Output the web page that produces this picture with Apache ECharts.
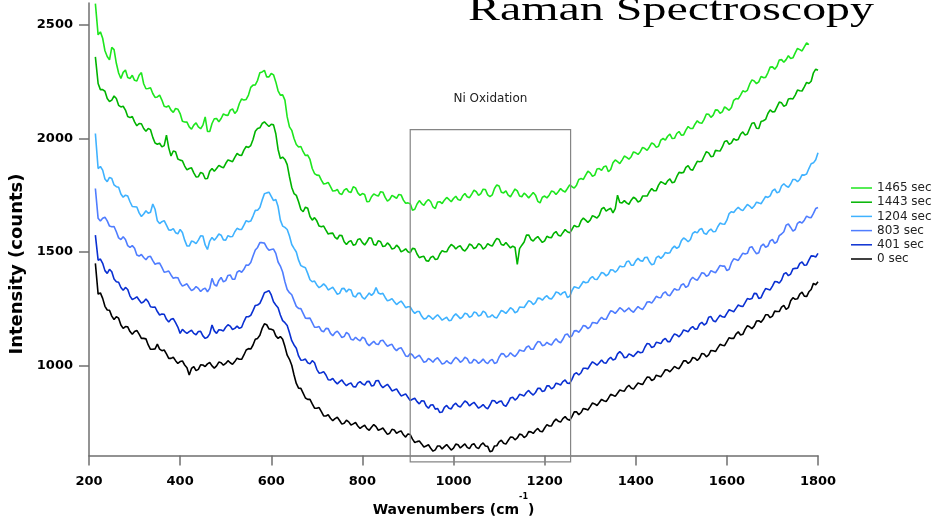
<!DOCTYPE html>
<html>
<head>
<meta charset="utf-8">
<script src="https://cdn.jsdelivr.net/npm/echarts@6/dist/echarts.min.js"></script>
<style>
  html, body { margin: 0; padding: 0; background: #ffffff; }
  #chart { width: 932px; height: 520px; }
</style>
</head>
<body>
<div id="chart"></div>
<script>
// Raman shift sample positions (cm^-1), main grid
const wavenumbers = [
  214, 220, 230, 240, 250, 260, 270, 280, 290, 300,
  310, 320, 330, 340, 350, 360, 370, 380, 390, 400,
  410, 420, 430, 440, 450, 460, 470, 480, 490, 500,
  510, 520, 530, 540, 550, 560, 570, 580, 590, 600,
  610, 620, 630, 640, 650, 660, 670, 680, 690, 700,
  710, 720, 730, 740, 750, 760, 770, 780, 790, 800,
  810, 820, 830, 840, 850, 860, 870, 880, 890, 900,
  910, 920, 930, 940, 950, 960, 970, 980, 990, 1000,
  1010, 1020, 1030, 1040, 1050, 1060, 1070, 1080, 1090, 1100,
  1110, 1120, 1130, 1140, 1150, 1160, 1170, 1180, 1190, 1200,
  1210, 1220, 1230, 1240, 1250, 1260, 1270, 1280, 1290, 1300,
  1310, 1320, 1330, 1340, 1350, 1360, 1370, 1380, 1390, 1400,
  1410, 1420, 1430, 1440, 1450, 1460, 1470, 1480, 1490, 1500,
  1510, 1520, 1530, 1540, 1550, 1560, 1570, 1580, 1590, 1600,
  1610, 1620, 1630, 1640, 1650, 1660, 1670, 1680, 1690, 1700,
  1710, 1720, 1730, 1740, 1750, 1760, 1770, 1780, 1790, 1800
];

// Intermediate sample positions (cm^-1)
const wavenumbersMid = [
  225, 235, 245, 255, 265, 275, 285, 295, 305, 315,
  325, 335, 345, 355, 365, 375, 385, 395, 405, 415,
  425, 435, 445, 455, 465, 475, 485, 495, 505, 515,
  525, 535, 545, 555, 565, 575, 585, 595, 605, 615,
  625, 635, 645, 655, 665, 675, 685, 695, 705, 715,
  725, 735, 745, 755, 765, 775, 785, 795, 805, 815,
  825, 835, 845, 855, 865, 875, 885, 895, 905, 915,
  925, 935, 945, 955, 965, 975, 985, 995, 1005, 1015,
  1025, 1035, 1045, 1055, 1065, 1075, 1085, 1095, 1105, 1115,
  1125, 1135, 1145, 1155, 1165, 1175, 1185, 1195, 1205, 1215,
  1225, 1235, 1245, 1255, 1265, 1275, 1285, 1295, 1305, 1315,
  1325, 1335, 1345, 1355, 1365, 1375, 1385, 1395, 1405, 1415,
  1425, 1435, 1445, 1455, 1465, 1475, 1485, 1495, 1505, 1515,
  1525, 1535, 1545, 1555, 1565, 1575, 1585, 1595, 1605, 1615,
  1625, 1635, 1645, 1655, 1665, 1675, 1685, 1695, 1705, 1715,
  1725, 1735, 1745, 1755, 1765, 1775, 1785, 1795
];

// Intensity (counts), 1465 s
const counts1465 = [
  2592, 2455, 2440, 2360, 2400, 2330, 2263, 2300, 2263, 2255,
  2277, 2240, 2219, 2197, 2182, 2168, 2138, 2124, 2131, 2109,
  2072, 2050, 2058, 2050, 2058, 2030, 2065, 2087, 2087, 2102,
  2124, 2109, 2153, 2168, 2190, 2234, 2255, 2292, 2270, 2285,
  2248, 2190, 2168, 2050, 1999, 1962, 1941, 1926, 1867, 1838,
  1816, 1801, 1787, 1769, 1757, 1772, 1765, 1787, 1760, 1757,
  1721, 1743, 1750, 1765, 1740, 1731, 1743, 1753, 1728, 1716,
  1684, 1711, 1713, 1721, 1721, 1691, 1721, 1728, 1731, 1735,
  1731, 1746, 1743, 1754, 1765, 1757, 1775, 1743, 1779, 1790,
  1760, 1750, 1760, 1769, 1743, 1750, 1750, 1750, 1716, 1746,
  1750, 1765, 1765, 1769, 1779, 1787, 1794, 1823, 1838, 1848,
  1838, 1867, 1875, 1853, 1892, 1897, 1904, 1916, 1919, 1936,
  1941, 1955, 1962, 1974, 1965, 1999, 2009, 1999, 2021, 2014,
  2036, 2043, 2062, 2068, 2083, 2106, 2102, 2124, 2116, 2131,
  2135, 2175, 2190, 2204, 2238, 2252, 2248, 2267, 2288, 2314,
  2317, 2346, 2346, 2351, 2376, 2390, 2402, 2412, null, null
];
const counts1465Mid = [
  2468, 2385, 2345, 2390, 2287, 2290, 2267, 2277, 2252, 2289,
  2218, 2222, 2180, 2190, 2141, 2143, 2114, 2128, 2075, 2071,
  2040, 2068, 2042, 2094, 2030, 2086, 2073, 2107, 2101, 2129,
  2121, 2173, 2171, 2224, 2235, 2288, 2299, 2270, 2279, 2209,
  2191, 2094, 2035, 1973, 1964, 1924, 1907, 1845, 1837, 1799,
  1806, 1768, 1775, 1753, 1779, 1762, 1782, 1749, 1753, 1722,
  1755, 1746, 1763, 1724, 1749, 1736, 1751, 1714, 1712, 1688,
  1726, 1705, 1731, 1698, 1720, 1713, 1740, 1721, 1745, 1727,
  1757, 1739, 1772, 1749, 1776, 1751, 1751, 1795, 1763, 1769,
  1743, 1777, 1746, 1759, 1738, 1762, 1723, 1741, 1738, 1768,
  1753, 1779, 1764, 1795, 1781, 1819, 1819, 1855, 1833, 1865,
  1859, 1878, 1863, 1905, 1889, 1922, 1908, 1940, 1929, 1960,
  1947, 1980, 1960, 1992, 1992, 2018, 2000, 2030, 2015, 2052,
  2043, 2077, 2066, 2107, 2092, 2125, 2110, 2138, 2123, 2167,
  2173, 2209, 2211, 2257, 2240, 2272, 2268, 2313, 2304, 2344,
  2334, 2363, 2354, 2395, 2384, 2419, null, null
];

// Intensity (counts), 1443 s
const counts1443 = [
  2358, 2241, 2214, 2175, 2168, 2175, 2138, 2124, 2091, 2072,
  2065, 2043, 2043, 2004, 1974, 1962, 2014, 1922, 1941, 1904,
  1878, 1867, 1848, 1831, 1845, 1823, 1867, 1867, 1875, 1889,
  1901, 1916, 1926, 1948, 1960, 1995, 2043, 2065, 2062, 2062,
  2020, 1911, 1907, 1831, 1757, 1721, 1677, 1692, 1640, 1637,
  1611, 1596, 1582, 1564, 1574, 1545, 1545, 1530, 1555, 1541,
  1545, 1560, 1530, 1545, 1526, 1530, 1516, 1520, 1506, 1501,
  1516, 1491, 1479, 1462, 1476, 1467, 1491, 1501, 1520, 1526,
  1523, 1511, 1516, 1530, 1520, 1530, 1520, 1530, 1545, 1555,
  1530, 1530, 1526, 1445, 1530, 1574, 1555, 1560, 1555, 1549,
  1564, 1582, 1574, 1585, 1589, 1599, 1611, 1637, 1640, 1640,
  1655, 1662, 1696, 1687, 1672, 1750, 1716, 1716, 1728, 1734,
  1725, 1746, 1765, 1769, 1794, 1804, 1813, 1804, 1831, 1848,
  1872, 1863, 1880, 1897, 1921, 1936, 1921, 1945, 1962, 1989,
  1980, 1992, 2018, 2014, 2043, 2068, 2043, 2077, 2109, 2116,
  2138, 2156, 2146, 2175, 2190, 2209, 2226, 2241, 2288, 2299
];
const counts1443Mid = [
  2214, 2207, 2162, 2186, 2145, 2141, 2096, 2096, 2055, 2064,
  2031, 2038, 1979, 1978, 1968, 1958, 1944, 1909, 1901, 1861,
  1870, 1830, 1850, 1822, 1855, 1855, 1881, 1870, 1905, 1897,
  1933, 1925, 1964, 1968, 2031, 2046, 2072, 2052, 2059, 1951,
  1917, 1884, 1784, 1749, 1687, 1697, 1656, 1651, 1614, 1614,
  1579, 1583, 1557, 1572, 1533, 1550, 1533, 1558, 1531, 1563,
  1533, 1550, 1524, 1540, 1513, 1530, 1501, 1514, 1497, 1514,
  1475, 1481, 1459, 1482, 1469, 1506, 1501, 1533, 1513, 1527,
  1504, 1535, 1515, 1537, 1513, 1537, 1526, 1560, 1533, 1542,
  1518, 1520, 1515, 1544, 1575, 1548, 1568, 1542, 1569, 1563,
  1590, 1570, 1599, 1584, 1617, 1612, 1649, 1630, 1660, 1649,
  1689, 1680, 1692, 1691, 1718, 1726, 1710, 1741, 1720, 1746,
  1746, 1779, 1770, 1809, 1797, 1821, 1808, 1850, 1850, 1880,
  1860, 1899, 1899, 1941, 1919, 1947, 1944, 1986, 1973, 1998,
  1995, 2028, 2019, 2066, 2044, 2074, 2083, 2125, 2117, 2159,
  2141, 2173, 2173, 2212, 2208, 2246, 2251, 2304
];

// Intensity (counts), 1204 s
const counts1204 = [
  2021, 1867, 1860, 1809, 1823, 1787, 1755, 1750, 1721, 1699,
  1672, 1667, 1670, 1711, 1637, 1633, 1618, 1596, 1585, 1599,
  1552, 1526, 1545, 1552, 1570, 1511, 1564, 1564, 1574, 1552,
  1567, 1589, 1599, 1618, 1633, 1658, 1684, 1728, 1760, 1745,
  1731, 1640, 1608, 1570, 1516, 1464, 1435, 1406, 1369, 1355,
  1350, 1350, 1339, 1330, 1318, 1340, 1336, 1306, 1318, 1300,
  1306, 1309, 1344, 1315, 1300, 1289, 1281, 1277, 1271, 1259,
  1242, 1238, 1218, 1208, 1213, 1215, 1213, 1207, 1198, 1218,
  1218, 1215, 1227, 1218, 1233, 1223, 1233, 1215, 1213, 1227,
  1238, 1242, 1248, 1238, 1257, 1271, 1281, 1277, 1296, 1300,
  1296, 1306, 1321, 1321, 1300, 1330, 1344, 1355, 1365, 1384,
  1380, 1394, 1406, 1403, 1421, 1421, 1435, 1457, 1442, 1461,
  1462, 1476, 1457, 1447, 1482, 1482, 1494, 1516, 1516, 1549,
  1555, 1555, 1589, 1599, 1582, 1593, 1589, 1611, 1623, 1640,
  1677, 1687, 1687, 1696, 1702, 1702, 1716, 1728, 1740, 1769,
  1760, 1790, 1790, 1799, 1819, 1819, 1838, 1867, 1892, 1936
];
const counts1204Mid = [
  1876, 1821, 1828, 1795, 1785, 1741, 1746, 1700, 1698, 1656,
  1681, 1675, 1688, 1625, 1638, 1597, 1603, 1580, 1586, 1527,
  1548, 1537, 1571, 1531, 1548, 1552, 1579, 1553, 1572, 1568,
  1604, 1599, 1638, 1636, 1683, 1696, 1756, 1763, 1726, 1700,
  1614, 1599, 1533, 1500, 1440, 1431, 1378, 1372, 1343, 1360,
  1333, 1345, 1314, 1339, 1324, 1333, 1302, 1319, 1293, 1320,
  1319, 1320, 1318, 1285, 1295, 1269, 1284, 1255, 1259, 1230,
  1238, 1205, 1221, 1204, 1224, 1200, 1213, 1200, 1228, 1207,
  1231, 1213, 1236, 1218, 1240, 1214, 1224, 1210, 1243, 1230,
  1255, 1233, 1258, 1256, 1286, 1269, 1297, 1288, 1308, 1293,
  1324, 1311, 1325, 1305, 1347, 1340, 1370, 1367, 1392, 1379,
  1410, 1395, 1422, 1411, 1438, 1436, 1460, 1442, 1472, 1459,
  1477, 1444, 1475, 1472, 1498, 1497, 1526, 1523, 1562, 1545,
  1582, 1584, 1603, 1578, 1601, 1590, 1627, 1622, 1669, 1674,
  1697, 1682, 1709, 1692, 1719, 1712, 1744, 1747, 1777, 1765,
  1800, 1785, 1819, 1809, 1839, 1843, 1888, 1906
];

// Intensity (counts), 803 s
const counts803 = [
  1779, 1648, 1648, 1637, 1611, 1589, 1555, 1555, 1520, 1516,
  1482, 1476, 1479, 1462, 1450, 1432, 1413, 1399, 1388, 1365,
  1355, 1344, 1336, 1340, 1336, 1325, 1384, 1350, 1388, 1374,
  1399, 1380, 1418, 1424, 1442, 1482, 1520, 1541, 1520, 1511,
  1494, 1438, 1369, 1321, 1286, 1252, 1230, 1208, 1189, 1169,
  1154, 1164, 1142, 1145, 1139, 1128, 1139, 1113, 1116, 1125,
  1098, 1098, 1095, 1110, 1098, 1091, 1076, 1076, 1062, 1040,
  1047, 1040, 1031, 1018, 1025, 1028, 1022, 1011, 1013, 1025,
  1028, 1022, 1031, 1013, 1022, 1018, 1016, 1022, 1010, 1037,
  1052, 1043, 1047, 1052, 1066, 1081, 1072, 1091, 1104, 1091,
  1095, 1106, 1106, 1116, 1139, 1131, 1154, 1160, 1174, 1171,
  1189, 1201, 1204, 1223, 1238, 1242, 1248, 1245, 1242, 1248,
  1252, 1262, 1281, 1289, 1300, 1318, 1311, 1324, 1333, 1355,
  1344, 1377, 1380, 1391, 1406, 1399, 1413, 1424, 1438, 1418,
  1453, 1467, 1479, 1491, 1520, 1506, 1497, 1535, 1526, 1555,
  1545, 1579, 1618, 1608, 1599, 1633, 1640, 1652, 1670, 1696
];
const counts803Mid = [
  1636, 1653, 1614, 1612, 1562, 1567, 1528, 1528, 1487, 1489,
  1466, 1481, 1446, 1451, 1411, 1416, 1384, 1387, 1350, 1360,
  1330, 1348, 1326, 1341, 1340, 1357, 1375, 1369, 1397, 1380,
  1411, 1411, 1443, 1454, 1509, 1541, 1539, 1508, 1513, 1456,
  1412, 1335, 1312, 1261, 1251, 1209, 1209, 1169, 1172, 1149,
  1163, 1132, 1152, 1124, 1146, 1116, 1125, 1109, 1120, 1088,
  1107, 1093, 1112, 1085, 1094, 1066, 1079, 1043, 1054, 1032,
  1046, 1015, 1032, 1015, 1035, 1007, 1022, 1009, 1037, 1015,
  1037, 1012, 1028, 1010, 1029, 1009, 1028, 1014, 1053, 1038,
  1057, 1040, 1069, 1064, 1087, 1072, 1106, 1088, 1103, 1091,
  1118, 1101, 1136, 1125, 1153, 1147, 1177, 1163, 1190, 1185,
  1213, 1204, 1241, 1230, 1255, 1237, 1254, 1235, 1260, 1247,
  1280, 1275, 1305, 1299, 1325, 1308, 1339, 1334, 1360, 1351,
  1389, 1376, 1409, 1393, 1418, 1409, 1441, 1438, 1424, 1470,
  1463, 1495, 1494, 1523, 1492, 1526, 1521, 1549, 1538, 1572,
  1589, 1623, 1592, 1626, 1627, 1658, 1651, 1691
];

// Intensity (counts), 401 s
const counts401 = [
  1574, 1464, 1450, 1406, 1413, 1369, 1344, 1344, 1306, 1296,
  1289, 1281, 1281, 1257, 1238, 1227, 1204, 1204, 1189, 1142,
  1150, 1150, 1142, 1150, 1131, 1125, 1179, 1142, 1157, 1169,
  1174, 1164, 1164, 1194, 1215, 1242, 1267, 1296, 1325, 1311,
  1267, 1223, 1189, 1145, 1091, 1043, 1025, 1013, 1022, 984,
  969, 959, 937, 930, 930, 923, 920, 908, 923, 920,
  930, 911, 934, 915, 911, 905, 893, 882, 871, 861,
  852, 842, 846, 823, 827, 809, 794, 817, 813, 827,
  823, 832, 838, 832, 826, 820, 817, 827, 846, 842,
  827, 838, 861, 857, 871, 882, 879, 882, 901, 890,
  911, 905, 920, 930, 923, 940, 969, 969, 989, 1003,
  1010, 1013, 1013, 1028, 1025, 1052, 1052, 1037, 1047, 1052,
  1057, 1081, 1095, 1084, 1101, 1113, 1106, 1125, 1135, 1139,
  1154, 1164, 1160, 1183, 1179, 1213, 1198, 1208, 1215, 1230,
  1242, 1252, 1262, 1277, 1292, 1318, 1296, 1321, 1336, 1350,
  1369, 1377, 1409, 1403, 1428, 1450, 1442, 1464, 1482, 1494
];
const counts401Mid = [
  1469, 1418, 1424, 1381, 1367, 1332, 1335, 1291, 1303, 1275,
  1293, 1259, 1258, 1223, 1226, 1192, 1207, 1170, 1160, 1142,
  1156, 1136, 1151, 1120, 1140, 1153, 1158, 1153, 1180, 1159,
  1174, 1169, 1215, 1221, 1265, 1274, 1321, 1330, 1281, 1255,
  1198, 1177, 1110, 1077, 1024, 1029, 1008, 1013, 967, 974,
  938, 944, 920, 937, 912, 924, 906, 930, 915, 931,
  913, 935, 903, 918, 889, 898, 867, 876, 847, 857,
  832, 845, 813, 828, 812, 796, 825, 810, 835, 818,
  845, 823, 839, 813, 829, 810, 847, 834, 845, 821,
  858, 849, 874, 867, 891, 871, 900, 886, 911, 898,
  923, 915, 937, 922, 963, 959, 989, 986, 1017, 1002,
  1025, 1011, 1037, 1029, 1062, 1035, 1052, 1040, 1063, 1059,
  1098, 1080, 1103, 1097, 1120, 1106, 1140, 1127, 1157, 1149,
  1172, 1162, 1191, 1186, 1216, 1193, 1222, 1213, 1246, 1237,
  1267, 1260, 1295, 1295, 1317, 1299, 1339, 1333, 1370, 1363,
  1403, 1396, 1426, 1429, 1456, 1443, 1483, 1478
];

// Intensity (counts), 0 s
const counts0 = [
  1450, 1315, 1296, 1245, 1218, 1215, 1179, 1172, 1150, 1150,
  1139, 1120, 1091, 1072, 1095, 1066, 1052, 1032, 1022, 1018,
  1003, 959, 996, 984, 1003, 1008, 999, 999, 1013, 1010,
  1013, 1018, 1028, 1047, 1075, 1091, 1120, 1164, 1180, 1160,
  1131, 1128, 1084, 1028, 959, 901, 879, 852, 832, 813,
  798, 779, 769, 767, 759, 747, 753, 744, 735, 732,
  723, 729, 732, 720, 712, 703, 717, 709, 696, 700,
  677, 666, 656, 647, 637, 630, 647, 644, 641, 637,
  652, 647, 641, 652, 641, 652, 647, 622, 647, 665,
  659, 671, 685, 682, 696, 691, 709, 715, 712, 726,
  735, 754, 756, 767, 764, 776, 797, 794, 809, 820,
  832, 838, 846, 857, 870, 879, 890, 905, 902, 911,
  920, 934, 949, 940, 955, 966, 981, 984, 990, 1003,
  1022, 1018, 1033, 1033, 1051, 1047, 1066, 1078, 1090, 1106,
  1120, 1139, 1135, 1160, 1171, 1174, 1198, 1204, 1224, 1218,
  1238, 1257, 1248, 1286, 1292, 1315, 1306, 1325, 1362, 1369
];
const counts0Mid = [
  1320, 1261, 1244, 1203, 1209, 1164, 1171, 1138, 1155, 1120,
  1118, 1072, 1074, 1073, 1069, 1032, 1037, 1010, 1021, 991,
  988, 978, 1004, 996, 1014, 989, 1016, 1002, 1022, 1006,
  1033, 1028, 1069, 1073, 1116, 1134, 1184, 1162, 1156, 1120,
  1116, 1046, 1002, 922, 900, 858, 852, 813, 816, 779,
  784, 758, 773, 743, 760, 739, 750, 724, 738, 716,
  741, 716, 726, 698, 720, 703, 713, 686, 697, 662,
  669, 642, 652, 624, 647, 634, 653, 629, 655, 638,
  656, 635, 657, 635, 660, 645, 625, 648, 672, 655,
  686, 674, 699, 684, 710, 702, 724, 709, 741, 735,
  765, 752, 776, 760, 797, 784, 812, 805, 836, 825,
  852, 842, 874, 865, 893, 888, 914, 897, 924, 917,
  950, 935, 958, 951, 982, 973, 997, 987, 1021, 1010,
  1036, 1023, 1054, 1039, 1067, 1062, 1094, 1088, 1123, 1120,
  1149, 1138, 1176, 1163, 1196, 1191, 1224, 1211, 1240, 1238,
  1265, 1255, 1299, 1294, 1323, 1304, 1335, 1356
];

const seriesNames = ['1465 sec', '1443 sec', '1204 sec', '803 sec', '401 sec', '0 sec'];
const seriesCounts = [counts1465, counts1443, counts1204, counts803, counts401, counts0];
const seriesCountsMid = [counts1465Mid, counts1443Mid, counts1204Mid, counts803Mid, counts401Mid, counts0Mid];
const seriesColors = ['#1ee61e', '#00b400', '#3fb2ff', '#4f7dff', '#0a30d2', '#000000'];

const xTicks = { min: 200, max: 1800, step: 200 };
const yTickValues = [1000, 1500, 2000, 2500];
const yRange = [605, 2595];

// Ni oxidation region of interest (cm^-1 and counts)
const oxidationBand = [905, 1257];
const oxidationCounts = [577, 2038];

// Merge the two sampling grids of one spectrum into an ordered point list
function spectrumPoints(main, mid) {
  const pts = wavenumbers.map((wn, k) => [wn, main[k]])
    .concat(wavenumbersMid.map((wn, k) => [wn, mid[k]]));
  pts.sort((a, b) => a[0] - b[0]);
  return pts;
}

const chart = echarts.init(document.getElementById('chart'), null, { renderer: 'canvas' });

const axisGray = '#6f6f6f';
const tickFont = { fontFamily: 'DejaVu Sans', fontWeight: 'bold', fontSize: 13, color: '#000' };
const plainNumber = (v) => String(v);

const option = {
  animation: false,
  backgroundColor: '#ffffff',
  grid: { left: 89, top: 3, width: 729, height: 452.5, containLabel: false, outerBoundsMode: 'none' },
  legend: {
    orient: 'vertical',
    left: 846,
    top: 177,
    icon: 'rect',
    itemWidth: 21,
    itemHeight: 1.5,
    itemGap: 2.2,
    textStyle: { fontFamily: 'DejaVu Sans', fontSize: 12, color: '#222', lineHeight: 12 },
    data: seriesNames
  },
  xAxis: {
    type: 'value',
    min: xTicks.min,
    max: xTicks.max,
    interval: xTicks.step,
    axisLine: { show: true, lineStyle: { color: axisGray, width: 1.5 } },
    axisTick: { show: true, length: 10, lineStyle: { color: axisGray, width: 1.5 } },
    axisLabel: Object.assign({ margin: 20, formatter: plainNumber }, tickFont),
    splitLine: { show: false },
    name: '{a|Wavenumbers (cm}{s|-1}{a|)}',
    nameLocation: 'middle',
    nameGap: 37.5,
    nameTextStyle: {
      rich: {
        a: { fontFamily: 'DejaVu Sans', fontWeight: 'bold', fontSize: 14, color: '#000', lineHeight: 24, verticalAlign: 'bottom' },
        s: { fontFamily: 'DejaVu Sans', fontWeight: 'bold', fontSize: 8, color: '#000', lineHeight: 9, verticalAlign: 'top' }
      }
    }
  },
  yAxis: {
    type: 'value',
    min: yRange[0],
    max: yRange[1],
    axisLine: { show: true, lineStyle: { color: axisGray, width: 1.5 } },
    axisTick: { show: true, length: 10, customValues: yTickValues, lineStyle: { color: axisGray, width: 1.5 } },
    axisLabel: Object.assign({ margin: 16, customValues: yTickValues, formatter: plainNumber }, tickFont),
    splitLine: { show: false }
  },
  series: seriesNames.map((name, i) => ({
    name: name,
    type: 'line',
    symbol: 'none',
    showSymbol: false,
    connectNulls: false,
    lineStyle: { width: 1.6, color: seriesColors[i] },
    itemStyle: { color: seriesColors[i] },
    z: 2 + i,
    data: spectrumPoints(seriesCounts[i], seriesCountsMid[i])
  }))
};

chart.setOption(option);

// Annotations placed through the grid's coordinate system
const topLeft = chart.convertToPixel({ gridIndex: 0 }, [oxidationBand[0], oxidationCounts[1]]);
const bottomRight = chart.convertToPixel({ gridIndex: 0 }, [oxidationBand[1], oxidationCounts[0]]);

chart.setOption({
  graphic: [
    {
      type: 'rect',
      silent: true,
      shape: {
        x: topLeft[0],
        y: topLeft[1],
        width: bottomRight[0] - topLeft[0],
        height: bottomRight[1] - topLeft[1]
      },
      style: { fill: 'none', stroke: '#858585', lineWidth: 1.2 },
      z: 10
    },
    {
      type: 'text',
      silent: true,
      x: (topLeft[0] + bottomRight[0]) / 2,
      y: topLeft[1] - 31,
      style: {
        text: 'Ni Oxidation',
        font: '12px "DejaVu Sans"',
        fill: '#222',
        align: 'center',
        verticalAlign: 'middle'
      },
      z: 10
    },
    {
      type: 'text',
      silent: true,
      x: 468,
      y: 11,
      scaleX: 1.41,
      style: {
        text: 'Raman Spectroscopy',
        font: '34px "Liberation Serif"',
        fill: '#000',
        align: 'left',
        verticalAlign: 'middle'
      },
      z: 10
    },
    {
      type: 'text',
      silent: true,
      x: 17,
      y: 264,
      rotation: Math.PI / 2,
      style: {
        text: 'Intensity (counts)',
        font: 'bold 18px "DejaVu Sans"',
        fill: '#000',
        align: 'center',
        verticalAlign: 'middle'
      },
      z: 10
    }
  ]
});
</script>
</body>
</html>
